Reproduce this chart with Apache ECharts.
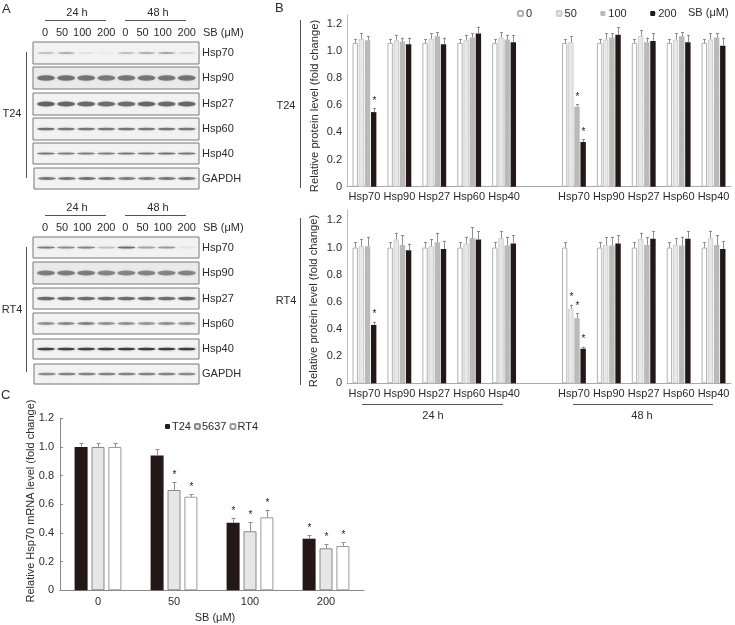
<!DOCTYPE html>
<html><head><meta charset="utf-8">
<style>html,body{margin:0;padding:0;background:#fff}#c{width:735px;height:625px}</style>
<script src="https://cdn.jsdelivr.net/npm/echarts@6/dist/echarts.min.js"></script>
</head><body><div id="c"></div>
<script>
var genes = ['Hsp70','Hsp90','Hsp27','Hsp60','Hsp40','','Hsp70','Hsp90','Hsp27','Hsp60','Hsp40'];
var doses = ['0','50','100','200'];
var blotNames = ['Hsp70','Hsp90','Hsp27','Hsp60','Hsp40','GAPDH'];
var laneLabels = ['0','50','100','200','0','50','100','200'];
var mrnaDoses = ['0','50','100','200'];

// Panel B, T24: means and upper error ends
var t24Mean0   = [1.06,1.06,1.06,1.06,1.06,null,1.06,1.06,1.06,1.06,1.06];
var t24Mean50  = [1.09,1.08,1.09,1.08,1.10,null,1.065,1.085,1.11,1.085,1.085];
var t24Mean100 = [1.08,1.07,1.11,1.10,1.085,null,0.59,1.10,1.065,1.11,1.10];
var t24Mean200 = [0.55,1.05,1.05,1.13,1.065,null,0.33,1.12,1.075,1.065,1.04];
var t24Err0    = [1.09,1.09,1.09,1.09,1.09,null,1.09,1.09,1.09,1.09,1.09];
var t24Err50   = [1.13,1.12,1.13,1.12,1.14,null,1.11,1.13,1.155,1.13,1.13];
var t24Err100  = [1.11,1.10,1.14,1.13,1.12,null,0.61,1.13,1.10,1.14,1.13];
var t24Err200  = [0.58,1.10,1.10,1.18,1.12,null,0.35,1.175,1.13,1.12,1.10];
// Panel B, RT4
var rt4Mean0   = [1.0,1.0,1.0,1.0,1.0,null,1.0,1.0,1.0,1.0,1.0];
var rt4Mean50  = [1.01,1.06,1.01,1.03,1.07,null,0.55,1.02,1.065,1.02,1.07];
var rt4Mean100 = [1.01,1.02,1.04,1.07,1.015,null,0.48,1.015,1.02,1.015,1.02];
var rt4Mean200 = [0.43,0.98,0.99,1.06,1.03,null,0.255,1.03,1.065,1.065,0.99];
var rt4Err0    = [1.04,1.04,1.04,1.04,1.04,null,1.04,1.04,1.04,1.04,1.04];
var rt4Err50   = [1.065,1.11,1.06,1.08,1.12,null,0.58,1.075,1.11,1.07,1.125];
var rt4Err100  = [1.08,1.09,1.11,1.15,1.08,null,0.515,1.08,1.075,1.08,1.09];
var rt4Err200  = [0.455,1.03,1.05,1.12,1.09,null,0.27,1.09,1.12,1.12,1.045];
// Significance marks (gene index) per dose
var t24Stars = [[],[],[6],[0,6]];
var rt4Stars = [[],[6],[6],[0,6]];

// Panel C
var mrnaT24  = [1.0,0.94,0.472,0.36];
var mrna5637 = [1.0,0.70,0.412,0.293];
var mrnaRT4  = [1.0,0.653,0.509,0.309];
var mrnaT24Err  = [1.025,0.985,0.505,0.384];
var mrna5637Err = [1.025,0.753,0.474,0.321];
var mrnaRT4Err  = [1.025,0.672,0.558,0.337];
var mrnaT24Stars  = [2,3];
var mrna5637Stars = [1,2,3];
var mrnaRT4Stars  = [1,2,3];

// Panel A, band strength per lane
var blotT24 = [
  [.4,.55,.12,.06,.4,.55,.6,.2],
  [.8,.8,.78,.72,.75,.75,.75,.78],
  [.95,.9,.88,.85,.85,.88,.88,.9],
  [.85,.8,.8,.8,.8,.8,.8,.8],
  [.8,.75,.75,.75,.8,.8,.85,.8],
  [.8,.8,.85,.8,.75,.75,.8,.8]
];
var blotRT4 = [
  [.75,.65,.7,.3,.9,.5,.55,.08],
  [.7,.7,.7,.65,.65,.65,.65,.65],
  [.9,.85,.85,.85,.85,.85,.85,.9],
  [.6,.65,.7,.6,.6,.55,.6,.6],
  [1.3,1.3,1.3,1.3,1.35,1.35,1.35,1.35],
  [.65,.7,.7,.7,.7,.7,.7,.65]
];
var bandThickT24 = [1.5,5.5,5,2.5,2,3];
var bandThickRT4 = [2,5,3.5,3,2.5,2.5];
var boxTopT24 = [42,67,93,118,143,168];
var boxBotT24 = [64,89,115,140,164,189];
var boxTopRT4 = [237,262,288,313,339,364];
var boxBotRT4 = [258,284,309,334,359,384];

var FONT = '"Liberation Sans", Arial, sans-serif';
var TXT = '#2b2b2b', GRAY = '#8f8f8f';
var grids = [], xAxes = [], yAxes = [], series = [], gfx = [];

function text(x,y,s,opt){ opt = opt||{};
  gfx.push({type:'text',x:x,y:y,rotation:opt.rot||0,silent:true,
    style:{text:s,fill:TXT,font:(opt.size||11)+'px '+FONT,textAlign:opt.align||'center',textVerticalAlign:'middle'}});
}
function line(x1,y1,x2,y2,c){
  gfx.push({type:'line',silent:true,shape:{x1:x1,y1:y1,x2:x2,y2:y2},style:{stroke:c||'#555',lineWidth:1}});
}

// ---- Panel A ----
function blotBlock(rows,thick,tops,bots,offsetY,cell){
  var lane0 = 46, step = 20.1, left = 33, right = 199;
  rows.forEach(function(r,i){
    var g = grids.length;
    grids.push({left:left+(i===5?1:0),width:right-left-(i===5?1:0),top:tops[i],height:bots[i]-tops[i],show:true,
      backgroundColor:i===1?'#eaeaea':'#f2f2f2',borderColor:'#777',borderWidth:1});
    xAxes.push({gridIndex:g,type:'value',show:false,min:(left-lane0)/step,max:(right-lane0)/step});
    yAxes.push({gridIndex:g,type:'value',show:false,min:-1,max:1});
    series.push({type:'scatter',xAxisIndex:g,yAxisIndex:g,silent:true,symbol:'circle',
      data:r.map(function(v,k){return {value:[k,0],symbolSize:[18,thick[i]],
        itemStyle:{opacity:v*0.72,color:'#3a3a3a',shadowBlur:2,shadowColor:'rgba(70,70,70,0.55)'}};})});
    text(202,(tops[i]+bots[i])/2,blotNames[i],{align:'left',size:11});
  });
  line(45,offsetY+20.5,106,offsetY+20.5); line(125,offsetY+20.5,186,offsetY+20.5);
  text(77,offsetY+13,'24 h'); text(158,offsetY+13,'48 h');
  laneLabels.forEach(function(s,k){ text(lane0+step*k+(k%4===0?-1:0)+(k%4===2?-4:0)+(k%4===1?-4:0),offsetY+33,s); });
  text(203,offsetY+33,'SB (μM)',{align:'left'});
}
blotBlock(blotT24,bandThickT24,boxTopT24,boxBotT24,0,'T24');
blotBlock(blotRT4,bandThickRT4,boxTopRT4,boxBotRT4,195,'RT4');
text(12,114,'T24'); line(26.5,52,26.5,178);
text(12,310,'RT4'); line(26.5,247,26.5,372);

// ---- shared error bar series ----
function errSeries(g,lowArr,highArr,starList,offset,cap){
  series.push({type:'custom',xAxisIndex:g,yAxisIndex:g,silent:true,z:3,
    data:lowArr.map(function(v,k){return v==null?null:[k,v,highArr[k],starList.indexOf(k)>=0?1:0];}),
    encode:{x:0,y:[1,2]},
    renderItem:function(p,api){
      var a = api.coord([api.value(0),api.value(1)]), b = api.coord([api.value(0),api.value(2)]);
      var x = Math.round(a[0]+offset)+0.5, st = {stroke:GRAY,lineWidth:1};
      var ch = [
        {type:'line',shape:{x1:x,y1:a[1],x2:x,y2:b[1]},style:st},
        {type:'line',shape:{x1:x-cap,y1:Math.round(b[1])+.5,x2:x+cap,y2:Math.round(b[1])+.5},style:st}
      ];
      if(api.value(3)) ch.push({type:'text',style:{text:'*',x:x,y:b[1]-2,fill:'#222',font:'10px '+FONT,textAlign:'center',textVerticalAlign:'bottom'}});
      return {type:'group',children:ch};
    }});
}

// ---- Panel B ----
var doseStyle = [
  {color:'#fff',borderColor:'#b0b0b0',borderWidth:1},
  {color:'#e8e8e8',borderColor:'#cfcfcf',borderWidth:1},
  {color:'#b4b4b4',decal:{symbol:'rect',symbolSize:1,dashArrayX:[1,1],dashArrayY:[1,1],rotation:0.78,color:'rgba(255,255,255,0.3)'}},
  {color:'#231815'}
];
function proteinPanel(top,height,maxV,means,errs,stars){
  var g = grids.length;
  grids.push({left:347,width:384,top:top,height:height});
  xAxes.push({gridIndex:g,type:'category',data:genes,
    axisLine:{lineStyle:{color:'#aaa'}},axisTick:{show:false},
    axisLabel:{interval:0,color:TXT,fontFamily:FONT,fontSize:11,margin:5}});
  yAxes.push({gridIndex:g,type:'value',min:0,max:maxV,interval:0.2,splitLine:{show:false},
    axisLine:{show:true,lineStyle:{color:'#bbb'}},axisTick:{show:false},
    axisLabel:{showMaxLabel:false,color:TXT,fontFamily:FONT,fontSize:11,margin:5,
      formatter:function(v){return v===0?'0':v.toFixed(1);}}});
  means.forEach(function(m,i){
    series.push({type:'bar',name:doses[i],xAxisIndex:g,yAxisIndex:g,data:m,barWidth:5.4,barGap:'14%',silent:true,itemStyle:doseStyle[i]});
  });
  means.forEach(function(m,i){ errSeries(g,m,errs[i],stars[i],(i-1.5)*6.2,1.5); });
}
proteinPanel(15,171.7,1.266,[t24Mean0,t24Mean50,t24Mean100,t24Mean200],[t24Err0,t24Err50,t24Err100,t24Err200],t24Stars);
proteinPanel(210,173.3,1.277,[rt4Mean0,rt4Mean50,rt4Mean100,rt4Mean200],[rt4Err0,rt4Err50,rt4Err100,rt4Err200],rt4Stars);
text(315,106,'Relative protein level (fold change)',{rot:Math.PI/2,size:11.2});
text(314,301,'Relative protein level (fold change)',{rot:Math.PI/2,size:11.2});
text(286,106,'T24'); line(300.5,20,300.5,188);
text(286,301,'RT4'); line(300.5,218,300.5,385);
line(362,404.5,503,404.5); line(573,404.5,713,404.5);
text(433,416,'24 h'); text(642,416,'48 h');
text(688,13,'SB (μM)',{align:'left',size:11});

// ---- Panel C ----
var gC = grids.length;
grids.push({left:60,width:304,top:418.3,height:172});
xAxes.push({gridIndex:gC,type:'category',data:mrnaDoses,axisLine:{lineStyle:{color:'#888'}},axisTick:{show:false},
  axisLabel:{color:TXT,fontFamily:FONT,fontSize:11,margin:6}});
yAxes.push({gridIndex:gC,type:'value',min:0,max:1.2,interval:0.2,splitLine:{show:false},
  axisLine:{show:true,lineStyle:{color:'#888'}},axisTick:{show:true,inside:true,length:3,lineStyle:{color:'#888'}},
  axisLabel:{color:TXT,fontFamily:FONT,fontSize:11,margin:6,formatter:function(v){return v===0?'0':v.toFixed(1);}}});
text(31,501,'Relative Hsp70 mRNA level (fold change)',{rot:Math.PI/2,size:11});
text(215,618,'SB (μM)');
var cellNames = ['T24','5637','RT4'];
var cellStyle = [{color:'#231815'},{color:'#e6e6e6',borderColor:'#888',borderWidth:1},{color:'#fff',borderColor:'#999',borderWidth:1}];
[mrnaT24,mrna5637,mrnaRT4].forEach(function(m,i){
  series.push({type:'bar',name:cellNames[i],xAxisIndex:gC,yAxisIndex:gC,data:m,barWidth:13,barGap:'30%',silent:true,itemStyle:cellStyle[i]});
});
[[mrnaT24,mrnaT24Err,mrnaT24Stars],[mrna5637,mrna5637Err,mrna5637Stars],[mrnaRT4,mrnaRT4Err,mrnaRT4Stars]].forEach(function(a,i){
  errSeries(gC,a[0],a[1],a[2],(i-1)*17,2);
});

text(2,9,'A',{align:'left',size:13});
text(275,8,'B',{align:'left',size:13});
text(1,395,'C',{align:'left',size:13});

var chart = echarts.init(document.getElementById('c'),null,{renderer:'canvas'});
chart.setOption({
  animation:false,backgroundColor:'#fff',
  grid:grids,xAxis:xAxes,yAxis:yAxes,series:series,graphic:{elements:gfx},
  legend:[
    {data:doses,left:512,top:3,itemWidth:5,itemHeight:5,itemGap:23.5,selectedMode:false,
     textStyle:{color:TXT,fontFamily:FONT,fontSize:11,padding:[0,0,0,-2]}},
    {data:cellNames,left:160,top:416,itemWidth:5,itemHeight:5,itemGap:3,selectedMode:false,
     textStyle:{color:TXT,fontFamily:FONT,fontSize:11,padding:[0,0,0,-3]}}
  ]
});
</script></body></html>
